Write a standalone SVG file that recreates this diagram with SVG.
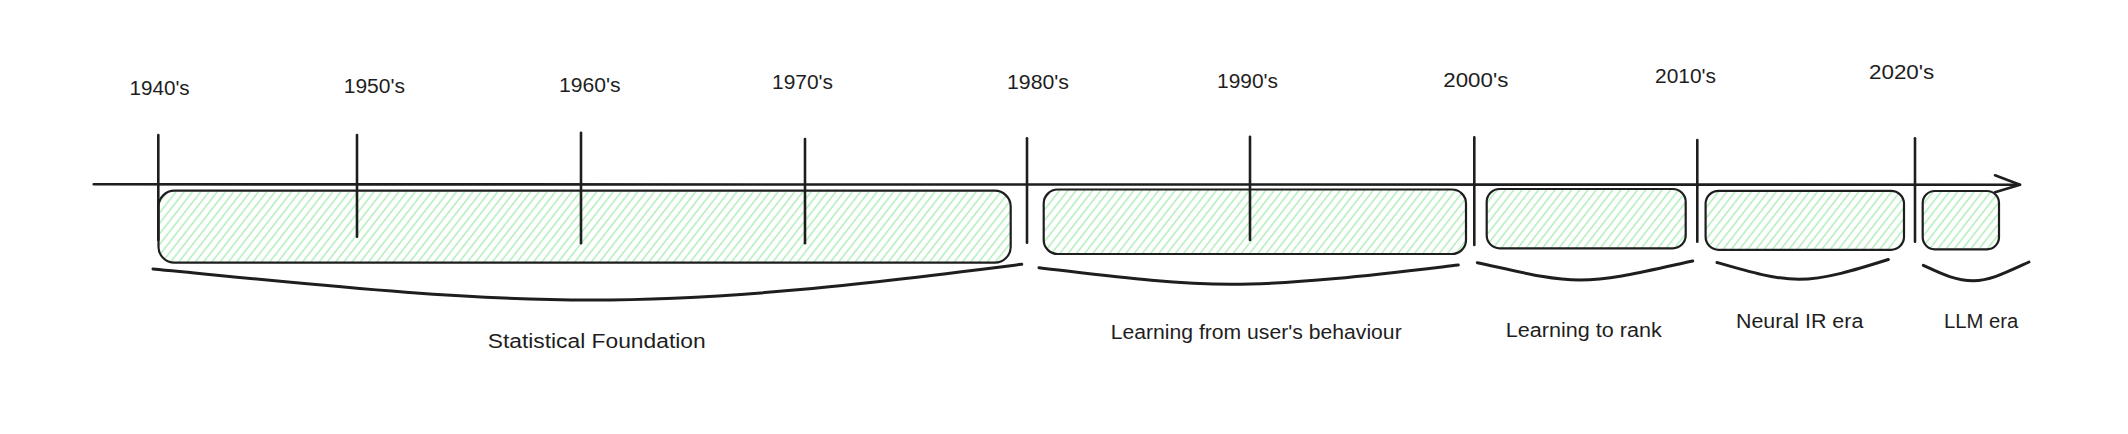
<svg xmlns="http://www.w3.org/2000/svg" width="2128" height="434" viewBox="0 0 2128 434">
  <style>
    .lbl { font-family: "Liberation Sans", Arial, sans-serif; font-size: 20px; fill: #1e1e1e; }
    .tick { stroke: #1e1e1e; stroke-width: 2.6; stroke-linecap: round; fill: none; }
    .box { stroke: #1e1e1e; stroke-width: 2.2; fill: url(#hatch); }
    .brace { stroke: #1e1e1e; stroke-width: 3; stroke-linecap: round; fill: none; }
    .axis { stroke: #1e1e1e; stroke-width: 2.6; stroke-linecap: round; stroke-linejoin: round; fill: none; }
  </style>
  <defs>
    <pattern id="hatch" patternUnits="userSpaceOnUse" width="6.5" height="20" patternTransform="rotate(38)">
      <line x1="3.25" y1="0" x2="3.25" y2="20" stroke="#a9ecb3" stroke-width="1.4"/>
    </pattern>
  </defs>
  <rect width="2128" height="434" fill="#ffffff"/>

  <!-- era boxes (drawn first so ticks overlay) -->
  <g id="era-statistical">
    <rect class="box" x="158.5" y="190.7" width="852.2" height="72" rx="16"/>
    <path class="brace" d="M153,269 C300,283 450,300 590,300 C740,300 880,282 1021.7,264.3"/>
    <text class="lbl" x="487.7" y="347.7" textLength="218" lengthAdjust="spacingAndGlyphs">Statistical Foundation</text>
  </g>
  <g id="era-user-behaviour">
    <rect class="box" x="1043.7" y="189.5" width="422.3" height="64.5" rx="14"/>
    <path class="brace" d="M1039,267.7 C1110,276 1170,284.3 1231,284.3 C1300,284.3 1390,273 1458.3,265"/>
    <text class="lbl" x="1110.7" y="339.3" textLength="291" lengthAdjust="spacingAndGlyphs">Learning from user's behaviour</text>
  </g>
  <g id="era-learning-to-rank">
    <rect class="box" x="1486.7" y="189" width="199" height="59.3" rx="13"/>
    <path class="brace" d="M1477.3,262.7 C1520,272 1550,280 1580,280 C1615,280 1650,270 1692.7,261"/>
    <text class="lbl" x="1505.7" y="337.3" textLength="156" lengthAdjust="spacingAndGlyphs">Learning to rank</text>
  </g>
  <g id="era-neural-ir">
    <rect class="box" x="1705.6" y="190.8" width="198.4" height="59" rx="13"/>
    <path class="brace" d="M1717,262.5 C1750,272 1775,279.3 1799,279.3 C1825,279.3 1855,270 1888.3,259.5"/>
    <text class="lbl" x="1736" y="327.7" textLength="127.3" lengthAdjust="spacingAndGlyphs">Neural IR era</text>
  </g>
  <g id="era-llm">
    <rect class="box" x="1922.7" y="191" width="76.3" height="58.3" rx="12"/>
    <path class="brace" d="M1923.3,265.3 C1940,273 1955,280.7 1973.3,280.7 C1990,280.7 2005,273 2029,262"/>
    <text class="lbl" x="1944" y="328" textLength="74.3" lengthAdjust="spacingAndGlyphs">LLM era</text>
  </g>

  <!-- timeline axis -->
  <g id="connectors">
    <path class="axis" d="M93.7,184.3 L2020,184.7"/>
    <path class="axis" d="M1995,175.3 L2020,184.7 L1995,192.3"/>
  </g>

  <!-- decade ticks -->
  <g id="decade-1940s">
    <line class="tick" x1="158.3" y1="135" x2="158.3" y2="240"/>
    <text class="lbl" x="129.5" y="95" textLength="60.2" lengthAdjust="spacingAndGlyphs">1940's</text>
  </g>
  <g id="decade-1950s">
    <line class="tick" x1="357" y1="135" x2="357" y2="236.7"/>
    <text class="lbl" x="343.7" y="92.7" textLength="61.3" lengthAdjust="spacingAndGlyphs">1950's</text>
  </g>
  <g id="decade-1960s">
    <line class="tick" x1="581" y1="132.7" x2="581" y2="243.3"/>
    <text class="lbl" x="559" y="91.7" textLength="61.5" lengthAdjust="spacingAndGlyphs">1960's</text>
  </g>
  <g id="decade-1970s">
    <line class="tick" x1="805" y1="139" x2="805" y2="243.3"/>
    <text class="lbl" x="772" y="89.3" textLength="61" lengthAdjust="spacingAndGlyphs">1970's</text>
  </g>
  <g id="decade-1980s">
    <line class="tick" x1="1027" y1="138.3" x2="1027" y2="242.7"/>
    <text class="lbl" x="1007" y="89.3" textLength="62" lengthAdjust="spacingAndGlyphs">1980's</text>
  </g>
  <g id="decade-1990s">
    <line class="tick" x1="1250" y1="136.7" x2="1250" y2="240"/>
    <text class="lbl" x="1217" y="88.3" textLength="61" lengthAdjust="spacingAndGlyphs">1990's</text>
  </g>
  <g id="decade-2000s">
    <line class="tick" x1="1474.3" y1="137.3" x2="1474.3" y2="245"/>
    <text class="lbl" x="1443.3" y="86.7" textLength="65" lengthAdjust="spacingAndGlyphs">2000's</text>
  </g>
  <g id="decade-2010s">
    <line class="tick" x1="1697.3" y1="140" x2="1697.3" y2="241.7"/>
    <text class="lbl" x="1655" y="83.3" textLength="61" lengthAdjust="spacingAndGlyphs">2010's</text>
  </g>
  <g id="decade-2020s">
    <line class="tick" x1="1915" y1="138.3" x2="1915" y2="241.7"/>
    <text class="lbl" x="1869" y="79" textLength="65.3" lengthAdjust="spacingAndGlyphs">2020's</text>
  </g>
</svg>
